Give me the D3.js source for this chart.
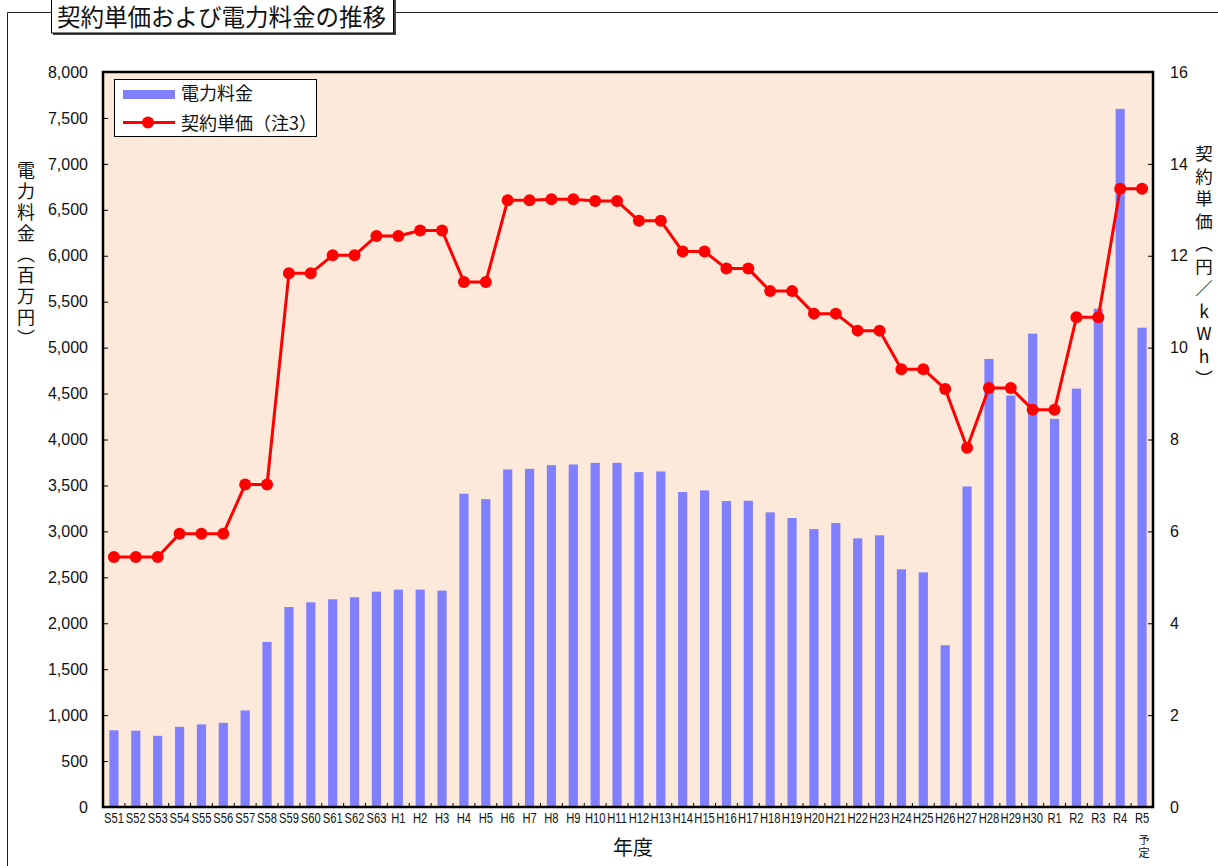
<!DOCTYPE html>
<html>
<head>
<meta charset="utf-8">
<script src="https://cdn.jsdelivr.net/npm/d3@7"></script>
<style>
  body { margin: 0; background: #fff; }
  svg text { font-family: "Liberation Sans", Arial, sans-serif; fill: #111; }
  svg text.jp { font-family: "Noto Sans CJK JP", sans-serif; }
</style>
</head>
<body>
<svg id="chart" width="1218" height="866"></svg>
<script>
// fiscal years (Showa, Heisei, Reiwa)
var years = ['S51', 'S52', 'S53', 'S54', 'S55', 'S56', 'S57', 'S58', 'S59', 'S60', 'S61', 'S62', 'S63',
  'H1', 'H2', 'H3', 'H4', 'H5', 'H6', 'H7', 'H8', 'H9', 'H10', 'H11', 'H12', 'H13', 'H14', 'H15',
  'H16', 'H17', 'H18', 'H19', 'H20', 'H21', 'H22', 'H23', 'H24', 'H25', 'H26', 'H27', 'H28', 'H29', 'H30',
  'R1', 'R2', 'R3', 'R4', 'R5'];

// 電力料金 (百万円)
var fees = [835, 830, 775, 873, 899, 916, 1051, 1797, 2177, 2228, 2261, 2283, 2344,
  2366, 2366, 2355, 3410, 3351, 3674, 3681, 3721, 3728, 3746, 3746, 3645, 3652, 3428, 3446,
  3330, 3333, 3207, 3145, 3025, 3090, 2924, 2957, 2587, 2554, 1761, 3489, 4877, 4478, 5152,
  4225, 4554, 5424, 7598, 5217];

// 契約単価 (円/kWh)
var unitPrices = [5.44, 5.44, 5.44, 5.95, 5.95, 5.95, 7.02, 7.02, 11.62, 11.62, 12.01, 12.01, 12.43,
  12.43, 12.55, 12.55, 11.43, 11.43, 13.21, 13.21, 13.23, 13.23, 13.19, 13.19, 12.76, 12.76, 12.09, 12.09,
  11.72, 11.72, 11.23, 11.23, 10.74, 10.74, 10.37, 10.37, 9.53, 9.53, 9.10, 7.82, 9.12, 9.12, 8.65,
  8.65, 10.66, 10.66, 13.46, 13.46];

var feeTicks = [0, 500, 1000, 1500, 2000, 2500, 3000, 3500, 4000, 4500, 5000, 5500, 6000, 6500, 7000, 7500, 8000];
var priceTicks = [0, 2, 4, 6, 8, 10, 12, 14, 16];

var plot = { left: 103, top: 72, right: 1153, bottom: 807 };

var svg = d3.select('#chart');

var x = d3.scaleBand().domain(years).range([plot.left, plot.right]).paddingInner(0.58).paddingOuter(0.29);
var yFee = d3.scaleLinear().domain([0, 8000]).range([plot.bottom, plot.top]);
var yPrice = d3.scaleLinear().domain([0, 16]).range([plot.bottom, plot.top]);

// outer frame
svg.append('path')
  .attr('d', 'M7.5,866 V12.5 H51 M395,12.5 H1218')
  .attr('fill', 'none').attr('stroke', '#222').attr('stroke-width', 1);

// title box
svg.append('rect').attr('x', 53).attr('y', -4).attr('width', 343).attr('height', 39).attr('fill', '#444');
svg.append('rect').attr('x', 51.5).attr('y', -5).attr('width', 342).attr('height', 38)
  .attr('fill', '#fff').attr('stroke', '#000').attr('stroke-width', 1);
svg.append('text').attr('class', 'jp').attr('x', 57).attr('y', 26)
  .style('font-size', '23.5px').text('契約単価および電力料金の推移');

// plot background
svg.append('rect')
  .attr('x', plot.left).attr('y', plot.top)
  .attr('width', plot.right - plot.left).attr('height', plot.bottom - plot.top)
  .attr('fill', '#FDE9D9');

// bars
svg.append('g').selectAll('rect').data(fees).enter().append('rect')
  .attr('x', (d, i) => x(years[i]))
  .attr('y', d => yFee(d))
  .attr('width', x.bandwidth())
  .attr('height', d => yFee(0) - yFee(d))
  .attr('fill', '#8080FF');

// unit price line
var line = d3.line()
  .x((d, i) => x(years[i]) + x.bandwidth() / 2)
  .y(d => yPrice(d));

svg.append('path').datum(unitPrices)
  .attr('d', line)
  .attr('fill', 'none').attr('stroke', '#FF0000').attr('stroke-width', 3)
  .attr('stroke-linejoin', 'round');

svg.append('g').selectAll('circle').data(unitPrices).enter().append('circle')
  .attr('cx', (d, i) => x(years[i]) + x.bandwidth() / 2)
  .attr('cy', d => yPrice(d))
  .attr('r', 6)
  .attr('fill', '#FF0000');

// left axis
var leftAxis = svg.append('g')
  .attr('transform', 'translate(' + plot.left + ',0)')
  .call(d3.axisLeft(yFee).tickValues(feeTicks).tickSizeInner(-5).tickSizeOuter(0).tickPadding(15).tickFormat(d3.format(',')));
leftAxis.select('.domain').remove();
leftAxis.selectAll('text').style('font-size', '16px').attr('fill', '#111');
leftAxis.selectAll('line').attr('stroke', '#000');

// right axis
var rightAxis = svg.append('g')
  .attr('transform', 'translate(' + plot.right + ',0)')
  .call(d3.axisRight(yPrice).tickValues(priceTicks).tickSizeInner(-5).tickSizeOuter(0).tickPadding(17));
rightAxis.select('.domain').remove();
rightAxis.selectAll('text').style('font-size', '16px').attr('fill', '#111');
rightAxis.selectAll('line').attr('stroke', '#000');

// bottom axis labels
var bottomAxis = svg.append('g')
  .attr('transform', 'translate(0,' + plot.bottom + ')')
  .call(d3.axisBottom(x).tickSize(0).tickPadding(6));
bottomAxis.select('.domain').remove();
bottomAxis.selectAll('text')
  .style('font-size', '14px')
  .attr('fill', '#111')
  .attr('transform', 'scale(0.8,1)');

// category boundary ticks
svg.append('g').selectAll('line').data(years.slice(1)).enter().append('line')
  .attr('x1', d => x(d) - x.step() * x.paddingInner() / 2)
  .attr('x2', d => x(d) - x.step() * x.paddingInner() / 2)
  .attr('y1', plot.bottom)
  .attr('y2', plot.bottom - 4)
  .attr('stroke', '#000');

// plot border
svg.append('rect')
  .attr('x', plot.left).attr('y', plot.top)
  .attr('width', plot.right - plot.left).attr('height', plot.bottom - plot.top)
  .attr('fill', 'none').attr('stroke', '#000').attr('stroke-width', 2.5);

// axis titles
svg.append('text').attr('class', 'jp')
  .attr('x', 26).attr('y', 161)
  .style('writing-mode', 'vertical-rl')
  .style('text-orientation', 'upright')
  .style('font-size', '18px')
  .style('letter-spacing', '3px')
  .text('電力料金（百万円）');

svg.append('text').attr('class', 'jp')
  .attr('x', 1204).attr('y', 145)
  .style('writing-mode', 'vertical-rl')
  .style('text-orientation', 'upright')
  .style('font-size', '17.5px')
  .style('letter-spacing', '5px')
  .text('契約単価（円／kWh）');

svg.append('text').attr('class', 'jp')
  .attr('x', 633).attr('y', 855)
  .attr('text-anchor', 'middle')
  .style('font-size', '20px')
  .text('年度');

svg.append('text').attr('class', 'jp')
  .attr('x', x('R5') + x.bandwidth() / 2 + 2).attr('y', 834)
  .style('writing-mode', 'vertical-rl')
  .style('text-orientation', 'upright')
  .style('font-size', '11.5px')
  .style('letter-spacing', '1.5px')
  .text('予定');

// legend
var legend = svg.append('g');
legend.append('rect')
  .attr('x', 114.5).attr('y', 79.5).attr('width', 202).attr('height', 57)
  .attr('fill', '#fff').attr('stroke', '#000').attr('stroke-width', 1);
legend.append('rect')
  .attr('x', 123).attr('y', 90).attr('width', 52).attr('height', 9)
  .attr('fill', '#8080FF');
legend.append('text').attr('class', 'jp')
  .attr('x', 181).attr('y', 100)
  .style('font-size', '18px')
  .text('電力料金');
legend.append('line')
  .attr('x1', 123).attr('x2', 175).attr('y1', 122.5).attr('y2', 122.5)
  .attr('stroke', '#FF0000').attr('stroke-width', 3);
legend.append('circle')
  .attr('cx', 148).attr('cy', 122.5).attr('r', 6).attr('fill', '#FF0000');
legend.append('text').attr('class', 'jp')
  .attr('x', 181).attr('y', 129.5)
  .style('font-size', '18px')
  .text('契約単価（注3）');
</script>
</body>
</html>
